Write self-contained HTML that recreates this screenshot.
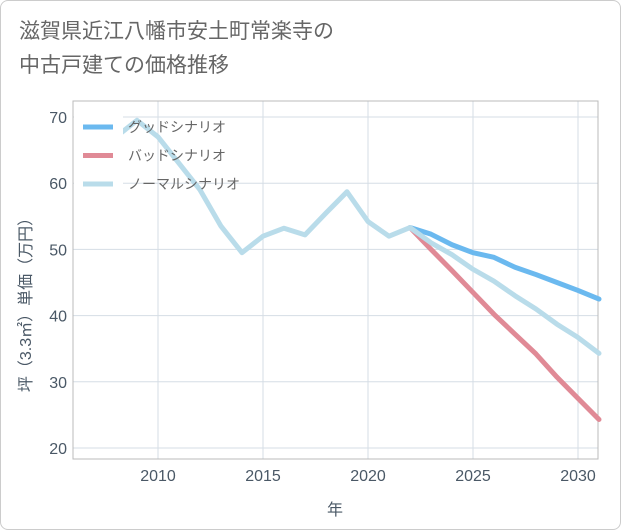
<!DOCTYPE html>
<html><head><meta charset="utf-8"><style>
body{margin:0;background:#fff;}
#wrap{position:relative;width:619px;height:528px;border:1px solid #ccc;border-radius:8px;overflow:hidden;background:#fff;font-family:"Liberation Sans","Noto Sans CJK JP",sans-serif;}
#title{position:absolute;left:18px;top:14px;font-size:21px;line-height:34px;color:#666;}
</style></head><body>
<div id="wrap">
<div id="title">滋賀県近江八幡市安土町常楽寺の<br>中古戸建ての価格推移</div>
<svg id="chart" width="621" height="530" style="position:absolute;left:0;top:0"></svg>
</div>
<script>
const histYears=[2008,2009,2010,2011,2012,2013,2014,2015,2016,2017,2018,2019,2020,2021,2022];
const histValues=[67,69.5,67,63,59,53.5,49.5,52,53.2,52.2,55.5,58.7,54.2,52,53.3];
const futYears=[2022,2023,2024,2025,2026,2027,2028,2029,2030,2031];
const goodValues=[53.3,52.3,50.7,49.5,48.8,47.3,46.2,45,43.8,42.5];
const badValues=[53.3,50,46.8,43.5,40.2,37.2,34.2,30.7,27.5,24.3];
const normalValues=[53.3,51,49.2,47,45.2,43,41,38.7,36.7,34.3];
const xTicks=[2010,2015,2020,2025,2030];
const yTicks=[20,30,40,50,60,70];
const NS="http://www.w3.org/2000/svg";
const svg=document.getElementById('chart');
const L=72,R=597,T=100,B=458;
const X=y=>157+(y-2010)*21;
const Y=v=>447-(v-20)*(331/50);
function el(t,a,p){const e=document.createElementNS(NS,t);for(const k in a)e.setAttribute(k,a[k]);(p||svg).appendChild(e);return e;}
xTicks.forEach(t=>{const g=el('line',{x1:X(t),x2:X(t),y1:T,y2:B,stroke:'#d5dde5','stroke-width':1});

const tx=el('text',{x:X(t),y:480,'text-anchor':'middle','font-size':16,fill:'#4a5866'});tx.textContent=t;
});
yTicks.forEach(t=>{const g=el('line',{x1:L,x2:R,y1:Y(t),y2:Y(t),stroke:'#d5dde5','stroke-width':1});

const tx=el('text',{x:66,y:Y(t)+6,'text-anchor':'end','font-size':16,fill:'#4a5866'});tx.textContent=t;
});
const fr=el('rect',{x:L,y:T,width:R-L,height:B-T,fill:'none',stroke:'#bbb'});

function line(xs,vs,c,n){const p=el('polyline',{points:xs.map((x,i)=>X(x)+','+Y(vs[i])).join(' '),fill:'none',stroke:c,'stroke-width':5,'stroke-linejoin':'round','stroke-linecap':'round'});
}
line(futYears,badValues,'#e08a96','bad-scenario-line');
line(futYears,goodValues,'#6bb9ef','good-scenario-line');
line(histYears,histValues,'#b9dcea','history-line');
line(futYears,normalValues,'#b9dcea','normal-scenario-line');
const lg=el('rect',{x:73,y:108,width:49,height:90,fill:'#fff'});

[['グッドシナリオ','#6bb9ef'],['バッドシナリオ','#e08a96'],['ノーマルシナリオ','#b9dcea']].forEach((d,i)=>{
const y=126+i*28.5;
const s=el('line',{x1:82,x2:112,y1:y,y2:y,stroke:d[1],'stroke-width':5});

const t=el('text',{x:127,y:y+5,'font-size':14,fill:'#666'});t.textContent=d[0];
});
const xt=el('text',{x:334,y:514,'text-anchor':'middle','font-size':16,fill:'#4a5866'});xt.textContent='年';

const yt=el('text',{x:0,y:0,'text-anchor':'middle','font-size':16,fill:'#4a5866',transform:'translate(30,300) rotate(-90)'});yt.textContent='坪（3.3㎡）単価（万円）';

</script>
</body></html>
